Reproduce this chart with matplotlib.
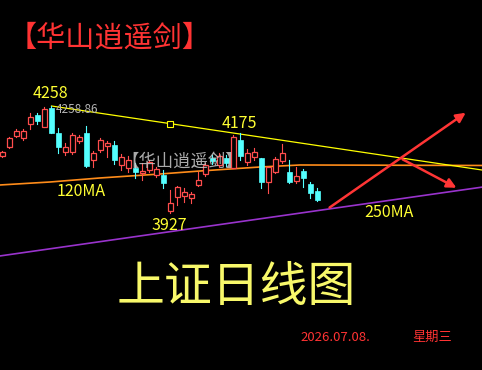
import numpy as np
import matplotlib
matplotlib.use('Agg')
import matplotlib.pyplot as plt
from matplotlib.patches import Rectangle

plt.rcParams['font.family'] = ['Noto Sans CJK SC', 'DejaVu Sans']

# daily candles (index 0..45)
opens  = [4103, 4131, 4165, 4159, 4202, 4230, 4193, 4252, 4174, 4116,
          4116, 4150, 4175, 4091, 4122, 4134, 4137, 4076, 4066, 4066,
          4051, 4060, 4045, 4045, 3933, 3977, 3980, 3973, 4014, 4048,
          4097, 4076, 4097, 4066, 4153, 4085, 4100, 4097, 4023, 4054,
          4088, 4054, 4026, 4057, 4017, 3995]
closes = [4116, 4159, 4181, 4181, 4224, 4212, 4249, 4175, 4131, 4131,
          4168, 4162, 4072, 4113, 4153, 4144, 4091, 4100, 4091, 4054,
          4057, 4085, 4063, 4020, 3958, 4007, 3992, 3986, 4029, 4076,
          4088, 4103, 4082, 4162, 4103, 4113, 4116, 4023, 4069, 4094,
          4113, 4023, 4042, 4035, 3989, 3967]
highs  = [4119, 4162, 4187, 4187, 4236, 4236, 4255, 4258, 4190, 4144,
          4175, 4168, 4196, 4119, 4159, 4150, 4150, 4110, 4103, 4082,
          4082, 4091, 4069, 4060, 3998, 4011, 4004, 3992, 4054, 4082,
          4106, 4113, 4106, 4168, 4175, 4125, 4128, 4097, 4069, 4100,
          4140, 4091, 4069, 4063, 4023, 4004]
lows   = [4100, 4128, 4162, 4153, 4187, 4202, 4193, 4174, 4112, 4106,
          4110, 4144, 4069, 4069, 4116, 4100, 4079, 4060, 4054, 4035,
          4029, 4054, 4038, 4004, 3927, 3952, 3961, 3958, 4011, 4042,
          4079, 4069, 4072, 4066, 4091, 4076, 4091, 4004, 3989, 4051,
          4082, 4020, 4020, 4007, 3973, 3964]

# moving averages and trend line (x in candle index)
ma120_x = [-0.4, 6.8, 13.9, 22.5, 28.2, 36.8, 42.5, 68.5]
ma120_y = [4013.6, 4022.9, 4035.3, 4047.6, 4056.9, 4069.3, 4075.5, 4074.0]
ma250_x = [-0.4, 68.5]
ma250_y = [3794, 4007]
trend_x = [7.0, 68.5]
trend_y = [4258, 4060]

UP = '#ff4d4d'
DOWN = '#54ffff'

fig = plt.figure(figsize=(4.82, 3.70), dpi=100, facecolor='black')
ax = fig.add_axes([0, 0, 1, 1])
ax.set_facecolor('black')
ax.set_xlim(-0.357, 68.5)
ax.set_ylim(3441.3, 4585.9)
ax.axis('off')

ax.plot(ma250_x, ma250_y, color='#9933cc', lw=1.2, zorder=2)
ax.plot(ma120_x, ma120_y, color='#ff8c1a', lw=1.2, zorder=2)
ax.plot(trend_x, trend_y, color='#ffff00', lw=0.9, zorder=2)
sq_x = 23.9
ax.plot([sq_x], [np.interp(sq_x, trend_x, trend_y)], marker='s', ms=5,
        mfc='black', mec='#ffff00', mew=0.8, zorder=3)

w = 0.72
for i, (o, c, h, l) in enumerate(zip(opens, closes, highs, lows)):
    col = UP if c >= o else DOWN
    ax.plot([i, i], [l, h], color=col, lw=0.8, zorder=4)
    lo, hi = min(o, c), max(o, c)
    if c >= o:
        ax.add_patch(Rectangle((i - w / 2, lo), w, hi - lo, facecolor='black',
                               edgecolor=col, lw=0.9, zorder=5))
    else:
        ax.add_patch(Rectangle((i - w / 2, lo), w, hi - lo, facecolor=col,
                               edgecolor=col, lw=0.5, zorder=5))

# arrows
ax.annotate('', xy=(66.5, 4242), xytext=(46.4, 3939),
            arrowprops=dict(arrowstyle='-|>', color='#ff3535', lw=1.8,
                            mutation_scale=14), zorder=6)
ax.annotate('', xy=(65.2, 4001), xytext=(56.8, 4097),
            arrowprops=dict(arrowstyle='-|>', color='#ff3535', lw=1.8,
                            mutation_scale=14), zorder=6)

# labels
yl = dict(color='#ffff33', fontsize=11.5, ha='center', va='center', zorder=7)
ax.text(6.79, 4298, '4258', **yl)
ax.text(33.8, 4205, '4175', **yl)
ax.text(23.8, 3887, '3927', **yl)
ax.text(11.2, 3995, '120MA', **yl)
ax.text(55.2, 3927, '250MA', **yl)
ax.text(7.6, 4246, '4258.86', color='#b4b4b4', fontsize=8.5, ha='left',
        va='center', zorder=7)

fig.text(0.228, 0.895, '【华山逍遥剑】', color='#ff3333', fontsize=21,
         ha='center', va='center')
fig.text(0.378, 0.562, '【华山逍遥剑】', color='#c8c8c8', fontsize=12.5,
         ha='center', va='center', alpha=0.85, zorder=8)
fig.text(0.49, 0.224, '上证日线图', color='#f8f86a', fontsize=34.5,
         ha='center', va='center')
fig.text(0.695, 0.089, '2026.07.08.', color='#ff3333', fontsize=9.5,
         ha='center', va='center')
fig.text(0.896, 0.089, '星期三', color='#ff3333', fontsize=9.5,
         ha='center', va='center')

fig.savefig('out.png', dpi=100, facecolor='black')
